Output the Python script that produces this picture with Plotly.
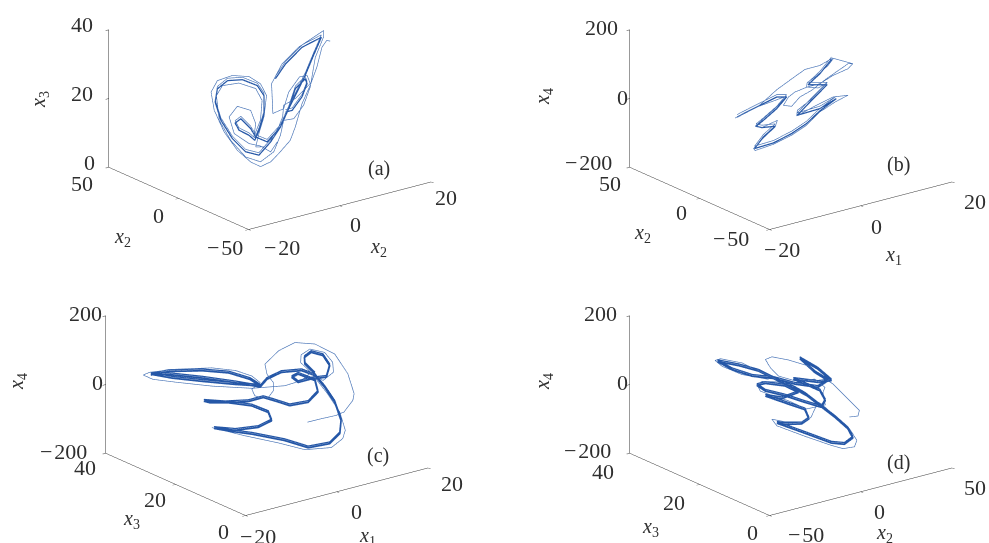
import plotly.graph_objects as go

# panel (a): x2, x2, x3
thin_x_a = [19.0, 17.9, 16.4, 14.8, 12.7, 10.1, 8.0, 6.4, 2.8, 0.2, -3.0, -6.1, -10.3, -14.5, -17.6, -18.6, -16.6, -11.9, -6.6, -3.0, -1.1, -1.9, -3.5, -4.5, -1.9, 1.7, 4.0, 4.3, 8.0, 12.7, 11.7, 9.3, 5.9, 4.3, 0.9, 0.5, 3.8, 9.0, 16.9, 16.9, 14.3, 12.7, 10.6, 7.5, 4.3, 3.3, 1.2, -3.0, -7.7, -12.4, -16.0, -16.9, -15.0, -9.8, -4.5, -2.5, -3.0, -5.1, -4.5, -6.1, -10.3, -12.9, -11.3, -6.6, -3.0, 0.2, 2.3]
thin_z_a = [28.8, 29.6, 28.4, 23.5, 19.3, 15.3, 9.7, 6.6, 4.7, 3.6, 3.9, 6.9, 12.5, 20.1, 28.0, 33.8, 36.1, 35.1, 32.0, 28.0, 23.6, 17.8, 13.8, 10.4, 9.1, 10.6, 14.7, 17.9, 17.9, 19.8, 22.7, 23.5, 20.9, 16.9, 17.3, 26.2, 30.2, 32.3, 33.0, 31.1, 26.6, 18.8, 14.6, 12.3, 13.5, 9.7, 6.0, 5.3, 9.2, 16.5, 24.2, 31.9, 33.8, 31.8, 27.4, 22.9, 17.4, 13.7, 17.2, 21.9, 25.3, 23.6, 17.9, 12.5, 9.9, 6.5, 8.3]
main_x_a = [1.7, 4.9, 10.1, 16.2, 13.7, 11.1, 8.5, 5.9, 3.3, 0.2, -3.5, -7.7, -11.9, -15.5, -17.3, -16.6, -13.4, -8.7, -4.0, -1.9, -1.9, -3.5, -4.8, -6.6, -9.8, -11.0, -9.2, -6.1, -4.5, -0.9, 3.3, 5.9, 8.0, 11.1, 11.7, 10.1, 7.0, 4.9]
main_z_a = [27.0, 29.6, 31.7, 31.4, 27.4, 23.0, 19.5, 16.1, 12.1, 9.4, 7.5, 10.7, 16.8, 24.0, 30.2, 33.7, 34.4, 32.2, 28.0, 24.0, 18.7, 14.7, 12.5, 14.9, 18.1, 20.8, 21.1, 16.6, 13.3, 10.0, 12.1, 16.1, 20.8, 22.0, 20.3, 17.3, 15.0, 15.6]
pass2_z_a = [27.7, 30.3, 32.4, 32.1, 28.1, 23.7, 20.2, 16.8, 12.8, 10.1, 8.2, 11.4, 17.5, 24.7, 30.9, 34.4, 35.1, 32.9, 28.7, 24.7, 19.4, 15.4, 13.2, 15.6, 18.8, 21.5, 21.8, 17.3, 14.0, 10.7, 12.8, 16.8, 21.5, 22.7, 21.0, 18.0, 15.7, 16.3]

# panel (b): x1, x2, x4
thin_x_b = [19.5, 18.0, 13.3, 9.1, 5.1, 1.2, -0.8, -2.4, 0.2, 2.8, 6.5, 11.2, 18.0, 19.5, 13.1, 9.1, 4.4, 0.7, -4.5, -9.7, -17.6, -10.8, -5.0, -1.4, -4.5, -8.7, -11.3, -9.2, -4.3, -5.0, -8.7, -11.8, -11.3, -5.5, 0.2, 4.9, 9.1, 14.3, 18.0, 13.3, 8.0, 1.8, 2.0, 6.0, 11.4, 8.6, 4.9, 5.1, 8.0, 11.7, 13.3]
thin_z_b = [19.7, 13.1, 18.5, 16.4, 27.9, 33.6, 29.9, 14.1, -2.4, 11.0, 10.8, 19.9, 27.6, 19.7, 69.8, 69.5, 82.7, 78.0, 70.6, 54.4, 57.4, 53.5, 42.3, 36.0, 20.4, 8.7, 0.1, -14.8, -19.4, -35.0, -47.3, -62.0, -70.5, -82.6, -86.5, -82.2, -65.7, -62.1, -64.2, -44.3, -40.6, -38.9, -23.5, -15.6, 7.2, 6.6, 28.9, 40.4, 44.4, 55.9, 66.8]
main_x_b = [-17.0, -13.4, -9.2, -4.5, -1.4, -4.5, -8.7, -11.0, -9.2, -5.0, -8.7, -11.5, -5.5, 0.2, 4.9, 9.1, 14.3, 9.1, 2.0, 6.0, 11.4, 5.4, 9.1, 12.8]
main_z_b = [57.1, 55.6, 52.8, 49.4, 33.1, 15.6, 3.8, -1.4, -14.8, -33.0, -44.5, -63.6, -78.7, -81.7, -77.4, -62.8, -54.4, -56.0, -38.0, -20.4, 1.4, 33.0, 45.4, 67.7]
pass2_z_b = [64.1, 62.6, 59.8, 56.4, 40.1, 22.6, 10.8, 5.6, -7.8, -26.0, -37.5, -56.6, -71.7, -74.7, -70.4, -55.8, -47.4, -49.0, -31.0, -13.4, 8.4, 40.0, 52.4, 74.7]

# panel (c): x1, x3, x4
thin_x_c = [6.4, 8.6, 10.9, 12.2, 13.6, 13.8, 12.8, 10.7, 7.6, 4.4, 1.8, -0.3, 0.0, 1.0, 1.0, 0.0, -1.9, -2.4, -1.1, -2.4, -5.0, -8.7, -14.5, -18.6, -19.6, -18.1, -14.5, -8.7, -2.4, 2.8, 5.4, 7.0, 8.9, 10.5, 10.4, 9.1, 6.8, 5.4, 5.3, 6.8, 9.6, 11.5, 12.4, 12.0, 10.2, 6.0, 1.8, -3.5, -8.7]
thin_y_c = [16.8, 15.7, 14.5, 13.9, 13.2, 13.1, 13.6, 14.6, 16.2, 17.8, 19.1, 20.2, 20.0, 19.5, 19.5, 20.0, 21.0, 21.2, 20.5, 21.2, 22.5, 24.4, 27.2, 29.3, 29.8, 29.0, 27.2, 24.4, 21.2, 18.6, 17.3, 16.5, 15.6, 14.7, 14.8, 15.4, 16.6, 17.3, 17.3, 16.6, 15.2, 14.2, 13.8, 14.0, 14.9, 17.0, 19.1, 21.8, 24.4]
thin_z_c = [-95.9, -88.5, -81.4, -73.1, -40.9, -21.7, 37.3, 97.6, 130.0, 138.2, 116.8, 80.5, 51.2, 26.0, 1.8, -21.2, -9.5, 10.4, 28.3, 49.0, 68.2, 80.0, 83.4, 79.2, 72.5, 58.4, 45.8, 26.9, 13.2, 14.4, 26.0, 48.5, 22.2, 44.7, 73.7, 104.1, 116.3, 101.4, 79.2, 51.5, -17.1, -72.4, -126.5, -150.2, -174.3, -175.5, -150.7, -123.7, -93.8]
main_x_c = [-18.4, -15.5, -10.3, -6.1, -2.7, -1.1, -5.0, -10.3, -15.0, -18.4, -15.0, -10.3, -5.0, -1.1, 0.0, 2.3, 5.5, 7.6, 9.1, 10.7, 11.7, 11.5, 9.9, 6.5, 2.8, -2.4, -6.1, -8.4, -5.0, -1.4, 0.7, 0.2, -2.4, -6.1, -9.0, -10.0, -6.6, -2.9, -0.6, 1.2, 3.6, 6.5, 8.1, 7.6, 4.9, 3.9, 4.9, 7.0, 9.4, 9.9, 8.9, 7.0, 5.9, 6.0, 7.6]
main_y_c = [29.2, 27.8, 25.1, 23.0, 21.3, 20.5, 22.5, 25.1, 27.5, 29.2, 27.5, 25.1, 22.5, 20.5, 20.0, 18.9, 17.3, 16.2, 15.4, 14.6, 14.1, 14.2, 15.0, 16.7, 18.6, 21.2, 23.0, 24.2, 22.5, 20.7, 19.6, 19.9, 21.2, 23.0, 24.5, 25.0, 23.3, 21.5, 20.3, 19.4, 18.2, 16.7, 16.0, 16.2, 17.5, 18.0, 17.5, 16.5, 15.3, 15.0, 15.6, 16.5, 17.0, 17.0, 16.2]
main_z_c = [71.2, 77.7, 74.0, 62.7, 39.6, 18.6, 27.6, 43.1, 57.9, 73.2, 67.5, 52.8, 32.5, 15.7, 36.7, 53.6, 55.0, 38.2, 2.7, -42.5, -96.7, -135.2, -162.4, -170.3, -145.0, -120.1, -106.4, -96.2, -105.7, -101.8, -84.8, -60.1, -38.0, -24.3, -21.1, -15.2, -23.7, -24.8, -15.7, -27.5, -44.5, -38.0, -10.7, 23.7, 45.9, 37.4, 21.8, 29.1, 31.4, 64.6, 94.6, 106.4, 93.1, 73.7, 43.0]
pass2_z_c = [76.2, 82.7, 79.0, 67.7, 44.6, 23.6, 32.6, 48.1, 62.9, 78.2, 72.5, 57.8, 37.5, 20.7, 41.7, 58.6, 60.0, 43.2, 7.7, -37.5, -91.7, -130.2, -157.4, -165.3, -140.0, -115.1, -101.4, -91.2, -100.7, -96.8, -79.8, -55.1, -33.0, -19.3, -16.1, -10.2, -18.7, -19.8, -10.7, -22.5, -39.5, -33.0, -5.7, 28.7, 50.9, 42.4, 26.8, 34.1, 36.4, 69.6, 99.6, 111.4, 98.1, 78.7, 48.0]

# panel (d): x2, x3, x4
thin_x_d = [23.2, 26.5, 27.1, 23.8, 16.6, 10.7, 6.8, -1.0, -7.6, -10.2, -8.2, -5.0, 1.6, 9.4, 13.4, 12.7, 13.6, 6.2, -1.0, -7.6, -12.2, -13.5, -11.3, -5.0, 2.2, 10.7, 7.9, 4.9, -2.4, -7.6, -5.6, 5.5, 16.0, 20.6, 25.2, 26.1, 23.2, 12.0, 1.6, -8.9, -19.4, -27.9, -30.1, -27.2, -19.4, -8.9]
thin_y_d = [15.4, 14.7, 14.6, 15.2, 16.7, 17.9, 18.6, 20.2, 21.5, 22.0, 21.6, 21.0, 19.7, 18.1, 17.3, 17.5, 17.3, 18.8, 20.2, 21.5, 22.4, 22.7, 22.3, 21.0, 19.6, 17.9, 18.4, 19.0, 20.5, 21.5, 21.1, 18.9, 16.8, 15.9, 15.0, 14.8, 15.4, 17.6, 19.7, 21.8, 23.9, 25.6, 26.0, 25.5, 23.9, 21.8]
thin_z_d = [-84.5, -83.0, -66.9, -41.3, 15.0, 46.5, 72.3, 93.2, 105.7, 99.1, 74.1, 48.6, 31.2, 32.6, 6.8, -7.4, -44.6, -52.9, -25.6, -6.4, 8.2, 28.1, 35.8, 31.2, 1.9, -35.6, -77.8, -89.0, -85.9, -75.9, -96.1, -131.9, -163.5, -175.2, -172.2, -153.4, -118.3, -40.9, 7.0, 52.2, 93.4, 109.7, 105.8, 87.2, 59.6, 40.6]
main_x_d = [-29.2, -20.7, -12.8, -5.0, 0.9, 5.5, 11.4, 17.3, 22.5, 24.5, 21.2, 16.0, 5.5, -5.6, -2.4, 4.2, 7.1, 5.5, -1.0, -10.2, -3.7, 2.9, -2.4, -10.2, -13.5, -10.2, -2.4, 5.5, 12.0, 13.6, 11.4, 5.5, 0.9, 10.7, 16.0, 10.7, 3.5, 9.4, 14.7, 10.7, 1.6, -6.3, -15.5, -23.3, -29.2]
main_y_d = [25.8, 24.1, 22.6, 21.0, 19.8, 18.9, 17.7, 16.5, 15.5, 15.1, 15.8, 16.8, 18.9, 21.1, 20.5, 19.2, 18.6, 18.9, 20.2, 22.0, 20.7, 19.4, 20.5, 22.0, 22.7, 22.0, 20.5, 18.9, 17.6, 17.3, 17.7, 18.9, 19.8, 17.9, 16.8, 17.9, 19.3, 18.1, 17.1, 17.9, 19.7, 21.3, 23.1, 24.7, 25.8]
main_z_d = [102.5, 86.3, 66.4, 34.1, 12.2, -9.2, -45.6, -81.9, -118.0, -145.9, -162.8, -156.7, -123.1, -88.4, -93.7, -95.5, -82.3, -54.6, -35.2, -7.2, -17.7, -3.2, 18.4, 29.5, 25.2, 7.3, -10.6, -33.3, -50.6, -32.0, -2.1, 19.8, 36.3, 22.3, 24.9, 61.0, 95.1, 51.9, 25.5, 7.9, 21.5, 41.3, 53.1, 75.8, 102.5]
pass2_z_d = [107.5, 91.3, 71.4, 39.1, 17.2, -4.2, -40.6, -76.9, -113.0, -140.9, -157.8, -151.7, -118.1, -83.4, -88.7, -90.5, -77.3, -49.6, -30.2, -2.2, -12.7, 1.8, 23.4, 34.5, 30.2, 12.3, -5.6, -28.3, -45.6, -27.0, 2.9, 24.8, 41.3, 27.3, 29.9, 66.0, 100.1, 56.9, 30.5, 12.9, 26.5, 46.3, 58.1, 80.8, 107.5]

LINE = "#2557a7"
THIN = "#4470b5"
TEXT = "#2e2e2e"
FONT = "Liberation Serif"
W, H = 989, 543
M = "\u2212\u200a"

fig = go.Figure()


def add_curve(name, x, y, z, color, width):
    fig.add_trace(go.Scatter3d(x=x, y=y, z=z, mode="lines", scene=name, hoverinfo="skip",
                               line=dict(color=color, width=width)))


add_curve("scene", thin_x_a, thin_x_a, thin_z_a, THIN, 1.3)
add_curve("scene", main_x_a, main_x_a, pass2_z_a, THIN, 1.3)
add_curve("scene", main_x_a, main_x_a, main_z_a, LINE, 2.5)
add_curve("scene2", thin_x_b, thin_x_b, thin_z_b, THIN, 1.3)
add_curve("scene2", main_x_b, main_x_b, pass2_z_b, THIN, 1.3)
add_curve("scene2", main_x_b, main_x_b, main_z_b, LINE, 2.5)
add_curve("scene3", thin_x_c, thin_y_c, thin_z_c, THIN, 1.3)
add_curve("scene3", main_x_c, main_y_c, pass2_z_c, LINE, 2.5)
add_curve("scene3", main_x_c, main_y_c, main_z_c, LINE, 3.5)
add_curve("scene4", thin_x_d, thin_y_d, thin_z_d, THIN, 1.3)
add_curve("scene4", main_x_d, main_y_d, pass2_z_d, LINE, 2.5)
add_curve("scene4", main_x_d, main_y_d, main_z_d, LINE, 3.5)


def axis(rng):
    return dict(range=rng, tickvals=[rng[0], (rng[0] + rng[1]) / 2, rng[1]], showticklabels=False, title="",
                showgrid=False, zeroline=False, showbackground=False, showline=True, linecolor="#333",
                linewidth=1, ticks="outside", ticklen=4, tickcolor="#333", showspikes=False, autorange=False)


def scene(cx, top, xr, yr, zr):
    # orthographic zoom in plotly comes from the aspect ratio, not the eye distance
    cz = -0.163
    cam = dict(projection=dict(type="orthographic"), eye=dict(x=-2.28, y=-2.98, z=1.36 + cz),
               center=dict(x=0, y=0, z=cz), up=dict(x=0, y=0, z=1))
    return dict(domain=dict(x=[(cx - 190) / W, (cx + 190) / W], y=[1 - (top + 250) / H, 1 - top / H]),
                xaxis=axis(xr), yaxis=axis(yr), zaxis=axis(zr), aspectmode="manual",
                aspectratio=dict(x=1.84, y=1.84, z=1.17), camera=cam)


def sym(n):
    return f"<i>x</i><sub>{n}</sub>"


# tick labels, axis names and panel tags, placed by pixel in the 989x543 page
tick_text = [
    ("40", 82, 25), ("20", 82, 93), ("0", 89, 162), ("50", 82, 183), ("0", 158, 215), (M + "50", 225, 247),
    (M + "20", 282, 248), ("0", 355, 224), ("20", 446, 197),
    ("200", 601, 28), ("0", 622, 97), (M + "200", 588, 162), ("50", 610, 183), ("0", 681, 212), (M + "50", 731, 238),
    (M + "20", 782, 250), ("0", 876, 226), ("20", 975, 202),
    ("200", 85, 313), ("0", 97, 382), (M + "200", 63, 451), ("40", 85, 467), ("20", 155, 499), ("0", 223, 531),
    (M + "20", 258, 536), ("0", 356, 511), ("20", 452, 483),
    ("200", 600, 313), ("0", 622, 382), (M + "200", 587, 450), ("40", 603, 471), ("20", 674, 502), ("0", 752, 532),
    (M + "50", 806, 534), ("0", 879, 511), ("50", 975, 487),
]
axis_names = [
    (3, 40, 100, -90), (2, 122, 237, 0), (2, 378, 247, 0),
    (4, 543, 97, -90), (2, 642, 233, 0), (1, 893, 255, 0),
    (4, 17, 382, -90), (3, 131, 519, 0), (1, 367, 536, 0),
    (4, 543, 382, -90), (3, 650, 527, 0), (2, 884, 533, 0),
]
panel_tags = [("(a)", 379, 168), ("(b)", 898, 164), ("(c)", 378, 455), ("(d)", 898, 462)]


def note(text, px, py, size, angle=0):
    return dict(text=text, x=px / W, y=1 - py / H, xref="paper", yref="paper", showarrow=False, textangle=angle,
                xanchor="center", yanchor="middle", font=dict(family=FONT, size=size, color=TEXT))


notes = [note(t, px, py, 22) for t, px, py in tick_text]
notes += [note(sym(n), px, py, 20, a) for n, px, py, a in axis_names]
notes += [note(t, px, py, 20) for t, px, py in panel_tags]

fig.update_layout(width=W, height=H, margin=dict(l=0, r=0, t=0, b=0), showlegend=False, paper_bgcolor="white",
                  annotations=notes,
                  scene=scene(269.5, 0, [-20, 20], [-50, 50], [0, 40]),
                  scene2=scene(791, 0, [-20, 20], [-50, 50], [-200, 200]),
                  scene3=scene(267, 285.5, [-20, 20], [0, 40], [-200, 200]),
                  scene4=scene(791, 285.5, [-50, 50], [0, 40], [-200, 200]))
fig.write_html("out.html", config=dict(displayModeBar=False), post_script="document.body.style.margin = '0';")
